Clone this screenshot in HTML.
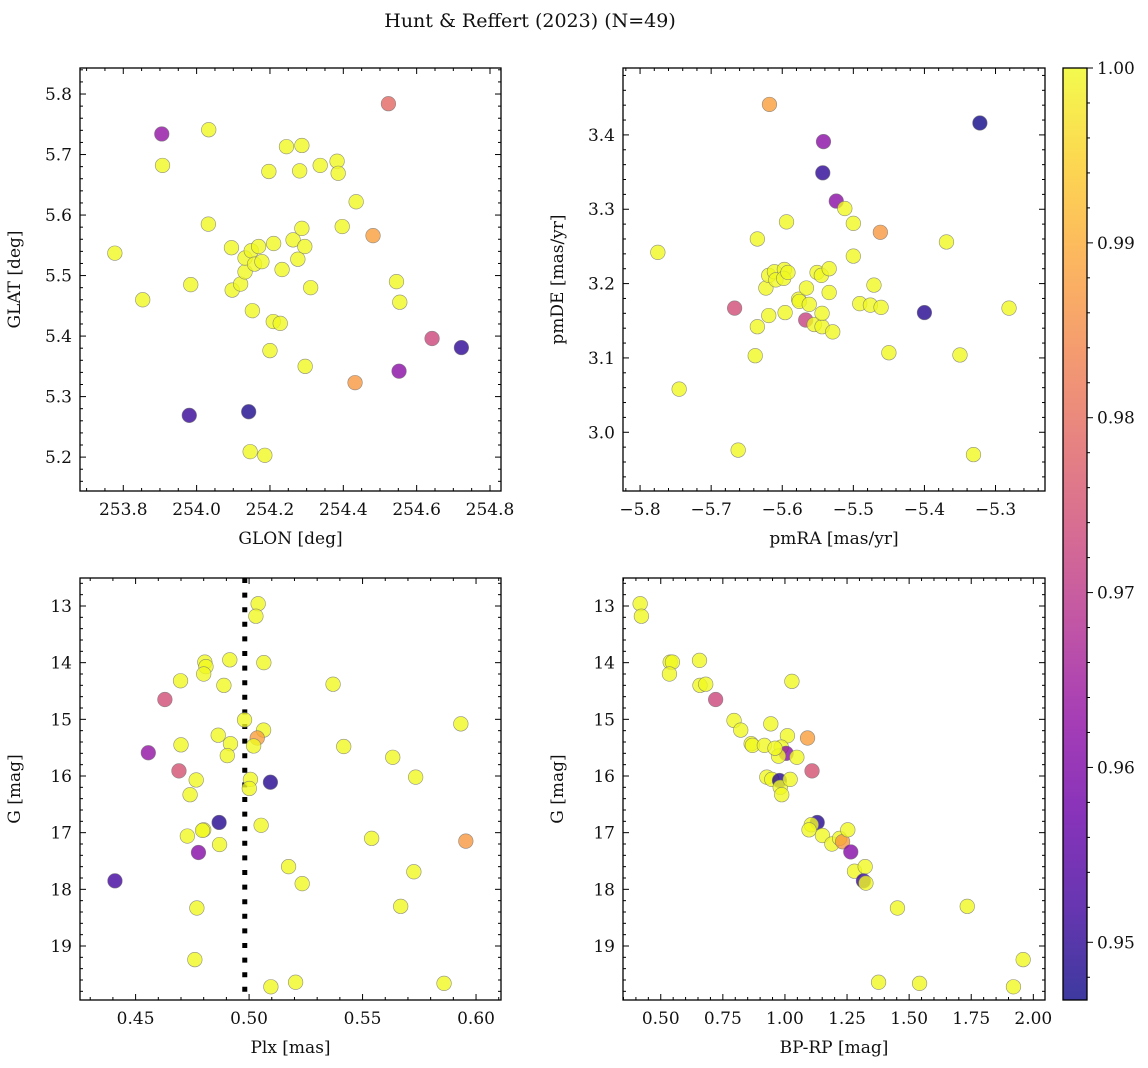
<!DOCTYPE html>
<html><head><meta charset="utf-8"><style>
html,body{margin:0;padding:0;background:#fff;}
svg{display:block;font-family:"DejaVu Serif","Liberation Serif",serif;}
</style></head><body>
<svg id="fig" width="1148" height="1068" viewBox="0 0 1148 1068" xmlns="http://www.w3.org/2000/svg">
<defs>
<linearGradient id="plasmaGrad" x1="0" y1="1" x2="0" y2="0">
<stop offset="0" stop-color="#0d0887"/><stop offset="0.1" stop-color="#41049d"/><stop offset="0.2" stop-color="#6a00a8"/><stop offset="0.3" stop-color="#8f0da4"/><stop offset="0.4" stop-color="#b12a90"/><stop offset="0.5" stop-color="#cc4778"/><stop offset="0.6" stop-color="#e16462"/><stop offset="0.7" stop-color="#f2844b"/><stop offset="0.8" stop-color="#fca636"/><stop offset="0.9" stop-color="#fcce25"/><stop offset="1" stop-color="#f0f921"/>
</linearGradient>
</defs>
<text x="530" y="27" font-size="19" text-anchor="middle" fill="#111">Hunt &amp; Reffert (2023) (N=49)</text>
</svg>
<script>
// ---- data ----
const p1Glon=[253.777,253.853,253.905,253.907,254.033,254.032,253.984,253.980,254.095,254.097,254.120,254.132,254.132,254.149,254.158,254.169,254.178,254.152,254.142,254.146,254.186,254.197,254.210,254.233,254.209,254.228,254.200,254.245,254.287,254.281,254.263,254.287,254.295,254.276,254.311,254.296,254.337,254.383,254.386,254.435,254.397,254.481,254.523,254.545,254.554,254.552,254.432,254.642,254.722];
const p1Glat=[5.537,5.460,5.734,5.682,5.741,5.585,5.485,5.269,5.546,5.476,5.486,5.506,5.529,5.541,5.519,5.548,5.523,5.442,5.275,5.209,5.203,5.672,5.553,5.510,5.424,5.421,5.376,5.713,5.715,5.673,5.559,5.578,5.548,5.527,5.480,5.350,5.682,5.689,5.669,5.622,5.581,5.566,5.784,5.490,5.456,5.342,5.323,5.396,5.381];
const p1Prob=[1,1,0.963,1,1,1,1,0.951,1,1,1,1,1,1,1,1,1,1,0.948,1,1,1,1,1,1,1,1,1,1,1,1,1,1,1,1,1,1,1,1,1,1,0.988,0.979,1,1,0.962,0.987,0.973,0.950];

const p2PmRA=[-5.775,-5.745,-5.662,-5.618,-5.667,-5.635,-5.638,-5.635,-5.619,-5.623,-5.619,-5.611,-5.609,-5.597,-5.598,-5.592,-5.594,-5.596,-5.577,-5.576,-5.566,-5.562,-5.567,-5.555,-5.544,-5.544,-5.529,-5.551,-5.545,-5.534,-5.534,-5.542,-5.543,-5.524,-5.512,-5.500,-5.462,-5.500,-5.491,-5.476,-5.461,-5.471,-5.450,-5.400,-5.369,-5.350,-5.331,-5.322,-5.281];
const p2PmDE=[3.242,3.058,2.976,3.441,3.167,3.260,3.103,3.142,3.157,3.194,3.211,3.216,3.205,3.219,3.207,3.215,3.283,3.161,3.179,3.176,3.194,3.172,3.151,3.145,3.142,3.160,3.135,3.215,3.211,3.220,3.188,3.391,3.349,3.311,3.301,3.281,3.269,3.237,3.173,3.171,3.168,3.198,3.107,3.161,3.256,3.104,2.970,3.416,3.167];
const p2Prob=[1,1,1,0.988,0.974,1,1,1,1,1,1,1,1,1,1,1,1,1,1,1,1,1,0.972,1,1,1,1,1,1,1,1,0.962,0.950,0.962,1,1,0.987,1,1,1,1,1,1,0.949,1,1,1,0.947,1];

const p3Plx=[0.504,0.503,0.4805,0.481,0.480,0.4915,0.5065,0.4698,0.4889,0.537,0.4629,0.498,0.5064,0.5036,0.502,0.4864,0.4918,0.4904,0.470,0.5933,0.5417,0.5633,0.4556,0.4691,0.4767,0.474,0.5006,0.5001,0.5094,0.5734,0.4868,0.5053,0.480,0.4795,0.4728,0.4870,0.4777,0.554,0.5955,0.5174,0.5234,0.5726,0.4409,0.477,0.5668,0.4761,0.5096,0.5205,0.5859];
const p3G=[12.96,13.18,13.99,14.07,14.20,13.95,14.00,14.32,14.40,14.38,14.65,15.01,15.19,15.33,15.47,15.28,15.43,15.64,15.45,15.08,15.48,15.67,15.59,15.91,16.07,16.33,16.06,16.22,16.11,16.02,16.82,16.87,16.95,16.96,17.06,17.21,17.35,17.10,17.15,17.60,17.90,17.69,17.85,18.33,18.30,19.24,19.72,19.64,19.66];
const p3Prob=[1,1,1,1,1,1,1,1,1,1,0.974,1,1,0.988,1,1,1,1,1,1,1,1,0.963,0.975,1,1,1,1,0.949,1,0.949,1,1,1,1,1,0.961,1,0.987,1,1,1,0.952,1,1,1,1,1,1];
const p3MeanPlx=0.4981;

const p4BpRp=[0.417,0.422,0.538,0.547,0.535,0.656,0.658,0.681,1.028,0.721,0.795,0.822,0.864,0.869,0.917,0.943,1.010,1.091,0.985,1.005,0.974,1.048,1.109,0.927,0.947,0.978,0.981,0.987,1.021,1.130,1.106,1.097,1.151,1.189,1.220,1.232,1.253,1.265,1.280,1.323,1.316,1.326,1.453,1.734,1.959,1.377,1.542,1.920,0.960];
const p4G=[12.96,13.18,13.99,13.99,14.20,13.96,14.40,14.38,14.33,14.65,15.02,15.19,15.43,15.46,15.46,15.08,15.29,15.33,15.49,15.60,15.65,15.67,15.91,16.02,16.06,16.08,16.20,16.33,16.06,16.82,16.86,16.95,17.05,17.20,17.10,17.16,16.95,17.34,17.68,17.60,17.85,17.89,18.33,18.30,19.24,19.64,19.66,19.72,15.51];
const p4Prob=[1,1,1,1,1,1,1,1,1,0.973,1,1,1,1,1,1,1,0.988,1,0.962,1,1,0.975,1,1,0.949,1,1,1,0.949,1,1,1,1,1,0.987,1,0.961,1,1,0.951,1,1,1,1,1,1,1,1];

const p1XTicks=[253.8,254.0,254.2,254.4,254.6,254.8];
const p1YTicks=[5.2,5.3,5.4,5.5,5.6,5.7,5.8];
const p2XTicks=[-5.8,-5.7,-5.6,-5.5,-5.4,-5.3];
const p2YTicks=[3.0,3.1,3.2,3.3,3.4];
const p3XTicks=[0.45,0.50,0.55,0.60];
const gTicks=[13,14,15,16,17,18,19];
const p4XTicks=[0.50,0.75,1.00,1.25,1.50,1.75,2.00];
const cbTicks=[0.95,0.96,0.97,0.98,0.99,1.00];
const cMin=0.9467, cMax=1.0;

const NS="http://www.w3.org/2000/svg";
const svg=document.getElementById('fig');
const FS=17;
function mk(tag,attrs,parent){const e=document.createElementNS(NS,tag);for(const k in attrs)e.setAttribute(k,attrs[k]);(parent||svg).appendChild(e);return e;}
const stops=[[13,8,135],[65,4,157],[106,0,168],[143,13,164],[177,42,144],[204,71,120],[225,100,98],[242,132,75],[252,166,54],[252,206,37],[240,249,33]];
function plasma(v){let t=(v-cMin)/(cMax-cMin);t=Math.max(0,Math.min(1,t))*10;const i=Math.min(9,Math.floor(t));const f=t-i;const a=stops[i],b=stops[i+1];return 'rgb('+[0,1,2].map(k=>Math.round(a[k]+(b[k]-a[k])*f)).join(',')+')';}
function fmt(v,d){const s=v.toFixed(d);return s.startsWith('-')?'\u2212'+s.slice(1):s;}

function panel(o){
  const g=mk('g',{});
  
  
  const X=v=>o.x0+(v-o.xd[0])/(o.xd[1]-o.xd[0])*(o.x1-o.x0);
  const Y=o.yInv? (v=>o.y0+(v-o.yd[0])/(o.yd[1]-o.yd[0])*(o.y1-o.y0)) : (v=>o.y1-(v-o.yd[0])/(o.yd[1]-o.yd[0])*(o.y1-o.y0));
  const lo=Math.min(o.xd[0],o.xd[1]),hi=Math.max(o.xd[0],o.xd[1]);
  for(let k=Math.ceil(lo/o.xMinor-1e-6);k*o.xMinor<=hi+1e-9;k++){const v=k*o.xMinor;const px=X(v);const isMaj=o.xTicks.some(t=>Math.abs(t-v)<o.xMinor/4);const L=isMaj?6:3;
    mk('line',{x1:px,x2:px,y1:o.y1,y2:o.y1-L,stroke:'#000','stroke-width':1},g);mk('line',{x1:px,x2:px,y1:o.y0,y2:o.y0+L,stroke:'#000','stroke-width':1},g);}
  const ylo=Math.min(o.yd[0],o.yd[1]),yhi=Math.max(o.yd[0],o.yd[1]);
  for(let k=Math.ceil(ylo/o.yMinor-1e-6);k*o.yMinor<=yhi+1e-9;k++){const v=k*o.yMinor;const py=Y(v);const isMaj=o.yTicks.some(t=>Math.abs(t-v)<o.yMinor/4);const L=isMaj?6:3;
    mk('line',{x1:o.x0,x2:o.x0+L,y1:py,y2:py,stroke:'#000','stroke-width':1},g);mk('line',{x1:o.x1,x2:o.x1-L,y1:py,y2:py,stroke:'#000','stroke-width':1},g);}
  o.xTicks.forEach(v=>{const t=mk('text',{x:X(v),y:o.y1+24,'font-size':FS,'text-anchor':'middle',fill:'#111'},g);t.textContent=fmt(v,o.xDec);
    
    });
  o.yTicks.forEach(v=>{const t=mk('text',{x:o.x0-8,y:Y(v)+6,'font-size':FS,'text-anchor':'end',fill:'#111'},g);t.textContent=fmt(v,o.yDec);
    
    });
  const xl=mk('text',{x:(o.x0+o.x1)/2,y:o.y1+53,'font-size':FS,'text-anchor':'middle',fill:'#111'},g);xl.textContent=o.xLabel;
  
  
  const yx=o.x0-60,yy=(o.y0+o.y1)/2;
  const yl=mk('text',{x:yx,y:yy,'font-size':FS,'text-anchor':'middle',fill:'#111',transform:'rotate(-90 '+yx+' '+yy+')'},g);yl.textContent=o.yLabel;
  
  
  if(o.vline!==undefined){const l=mk('line',{x1:X(o.vline),x2:X(o.vline),y1:o.y0,y2:o.y1,stroke:'#000','stroke-width':5,'stroke-dasharray':'5 9.6'},g);
    
    }
  const cg=mk('g',{},g);
  for(let i=0;i<o.xs.length;i++){
    const c=mk('circle',{cx:X(o.xs[i]),cy:Y(o.ys[i]),r:7.3,fill:plasma(o.cs[i]),'fill-opacity':0.8,stroke:'#777','stroke-width':0.6,'stroke-opacity':0.8},cg);
    
    
  }
  mk('rect',{x:o.x0,y:o.y0,width:o.x1-o.x0,height:o.y1-o.y0,fill:'none',stroke:'#000','stroke-width':1.3},g);
}

panel({name:'glon-glat-panel',x0:80,x1:501,y0:68,y1:491,xd:[253.682,254.830],yd:[5.144,5.843],xTicks:p1XTicks,yTicks:p1YTicks,xMinor:0.05,yMinor:0.02,xDec:1,yDec:1,xLabel:'GLON [deg]',yLabel:'GLAT [deg]',xs:p1Glon,ys:p1Glat,cs:p1Prob});
panel({name:'proper-motion-panel',x0:623,x1:1045,y0:68,y1:491,xd:[-5.824,-5.2304],yd:[2.921,3.490],xTicks:p2XTicks,yTicks:p2YTicks,xMinor:0.02,yMinor:0.02,xDec:1,yDec:1,xLabel:'pmRA [mas/yr]',yLabel:'pmDE [mas/yr]',xs:p2PmRA,ys:p2PmDE,cs:p2Prob});
panel({name:'parallax-mag-panel',x0:80,x1:501,y0:578,y1:1000,xd:[0.4255,0.611],yd:[12.506,19.953],yInv:true,xTicks:p3XTicks,yTicks:gTicks,xMinor:0.01,yMinor:0.2,xDec:2,yDec:0,xLabel:'Plx [mas]',yLabel:'G [mag]',xs:p3Plx,ys:p3G,cs:p3Prob,vline:p3MeanPlx});
panel({name:'cmd-panel',x0:623,x1:1045,y0:578,y1:1000,xd:[0.348,2.047],yd:[12.506,19.953],yInv:true,xTicks:p4XTicks,yTicks:gTicks,xMinor:0.05,yMinor:0.2,xDec:2,yDec:0,xLabel:'BP-RP [mag]',yLabel:'G [mag]',xs:p4BpRp,ys:p4G,cs:p4Prob});

// colorbar
const cb=mk('g',{});


const cbx0=1063,cbx1=1087,cby0=68,cby1=1000;
const CY=v=>cby1-(v-cMin)/(cMax-cMin)*(cby1-cby0);
mk('rect',{x:cbx0,y:cby0,width:cbx1-cbx0,height:cby1-cby0,fill:'url(#plasmaGrad)','fill-opacity':0.8},cb);
for(let k=Math.ceil(cMin/0.002);k*0.002<=cMax+1e-9;k++){const v=k*0.002;const py=CY(v);const maj=cbTicks.some(t=>Math.abs(t-v)<0.0005);mk('line',{x1:cbx1,x2:cbx1+(maj?6:3),y1:py,y2:py,stroke:'#000','stroke-width':1},cb);}
cbTicks.forEach(v=>{const t=mk('text',{x:cbx1+10,y:CY(v)+6,'font-size':FS,fill:'#111'},cb);t.textContent=v.toFixed(2);
  
  });
mk('rect',{x:cbx0,y:cby0,width:cbx1-cbx0,height:cby1-cby0,fill:'none',stroke:'#000','stroke-width':1.3},cb);
</script>
</body></html>
